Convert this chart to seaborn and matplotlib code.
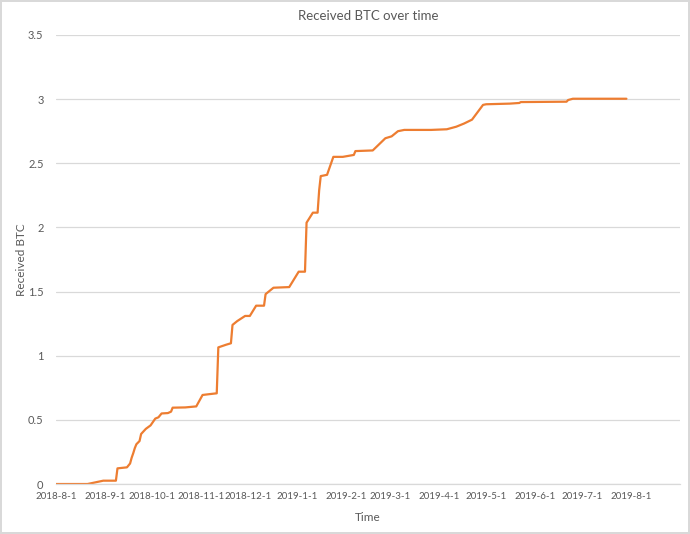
import matplotlib.pyplot as plt
import matplotlib.dates as mdates
import matplotlib.ticker as mticker
import pandas as pd
import seaborn as sns

# Data (cumulative BTC received)
dates = [
    '2018-08-01', '2018-08-21', '2018-08-31', '2018-09-08', '2018-09-09',
    '2018-09-15', '2018-09-17', '2018-09-18', '2018-09-19', '2018-09-20',
    '2018-09-21', '2018-09-23', '2018-09-24', '2018-09-27', '2018-09-30',
    '2018-10-03', '2018-10-05', '2018-10-07', '2018-10-11', '2018-10-13',
    '2018-10-14', '2018-10-22', '2018-10-29', '2018-11-02', '2018-11-06',
    '2018-11-11', '2018-11-12', '2018-11-17', '2018-11-20', '2018-11-21',
    '2018-11-24', '2018-11-29', '2018-12-02', '2018-12-06', '2018-12-11',
    '2018-12-12', '2018-12-14', '2018-12-17', '2018-12-27', '2019-01-02',
    '2019-01-06', '2019-01-07', '2019-01-11', '2019-01-14', '2019-01-15',
    '2019-01-16', '2019-01-20', '2019-01-24', '2019-01-30', '2019-02-06',
    '2019-02-07', '2019-02-18', '2019-02-26', '2019-03-02', '2019-03-06',
    '2019-03-10', '2019-03-27', '2019-04-06', '2019-04-12', '2019-04-17',
    '2019-04-22', '2019-04-29', '2019-05-01', '2019-05-16', '2019-05-22',
    '2019-05-23', '2019-06-21', '2019-06-22', '2019-06-25', '2019-07-29',
]
received_btc = [
    0.0, 0.0, 0.026, 0.026, 0.122,
    0.13, 0.16, 0.205, 0.24, 0.28,
    0.31, 0.335, 0.39, 0.43, 0.457,
    0.51, 0.52, 0.55, 0.553, 0.564,
    0.595, 0.597, 0.605, 0.694, 0.70,
    0.707, 1.065, 1.086, 1.097, 1.24,
    1.27, 1.31, 1.31, 1.39, 1.39,
    1.48, 1.50, 1.53, 1.535, 1.655,
    1.655, 2.037, 2.115, 2.115, 2.29,
    2.40, 2.41, 2.55, 2.55, 2.565,
    2.595, 2.60, 2.695, 2.71, 2.75,
    2.76, 2.76, 2.765, 2.785, 2.81,
    2.84, 2.955, 2.96, 2.965, 2.97,
    2.977, 2.98, 2.993, 3.003, 3.003,
]

df = pd.DataFrame({'Time': pd.to_datetime(dates), 'Received BTC': received_btc})

sns.set_style('white')
plt.rcParams['font.family'] = ['Lato', 'DejaVu Sans']
text_color = '#595959'
grid_color = '#D9D9D9'

fig = plt.figure(figsize=(6.9, 5.34), dpi=100)
fig.patch.set_edgecolor(grid_color)
fig.patch.set_linewidth(1.5)
ax = fig.add_axes([0.0812, 0.0936, 0.9043, 0.8409])

sns.lineplot(data=df, x='Time', y='Received BTC', ax=ax,
             color='#ED7D31', linewidth=1.6)

# Axes styling, Excel look
ax.set_ylim(0, 3.5)
ax.yaxis.set_major_locator(mticker.MultipleLocator(0.5))
ax.yaxis.set_major_formatter(mticker.FuncFormatter(lambda v, p: f'{v:g}'))
ax.set_xlim(pd.Timestamp('2018-08-01'), pd.Timestamp('2019-09-01'))
ax.xaxis.set_major_locator(mdates.MonthLocator())


def fmt_date(v, pos):
    d = mdates.num2date(v)
    if d.year == 2019 and d.month == 9:
        return ''
    return f'{d.year}-{d.month}-{d.day}'


ax.xaxis.set_major_formatter(mticker.FuncFormatter(fmt_date))

ax.grid(axis='y', color=grid_color, linewidth=0.9)
ax.grid(axis='x', visible=False)
for side in ['top', 'right', 'left']:
    ax.spines[side].set_visible(False)
ax.spines['bottom'].set_color(grid_color)
ax.spines['bottom'].set_linewidth(0.9)

ax.tick_params(axis='x', colors=grid_color, labelcolor=text_color,
               length=4, width=0.9, direction='out', labelsize=7, pad=2)
ax.tick_params(axis='y', length=0, labelcolor=text_color, labelsize=8, pad=9)

ax.set_title('Received BTC over time', color=text_color, fontsize=9.5, pad=11)
ax.set_xlabel('Time', color=text_color, fontsize=8.5, labelpad=8)
ax.set_ylabel('Received BTC', color=text_color, fontsize=8.5, labelpad=1)

plt.savefig('out.png', dpi=100)
